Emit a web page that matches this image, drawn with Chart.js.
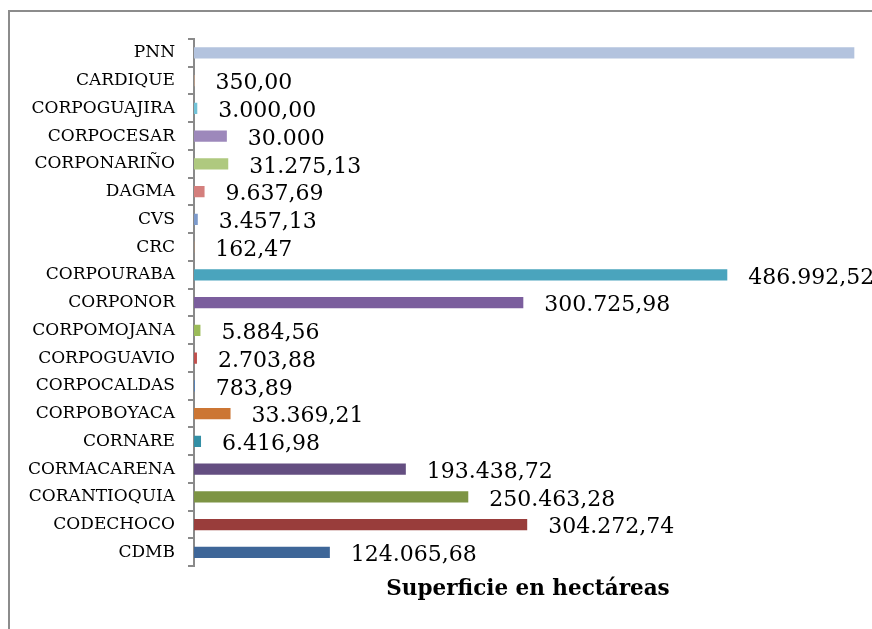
<!DOCTYPE html>
<html>
<head>
<meta charset="utf-8">
<script src="https://cdn.jsdelivr.net/npm/chart.js@4"></script>
<style>
  html, body { margin: 0; padding: 0; background: #fff; overflow: hidden; }
  #frame { position: absolute; left: 8px; top: 10px; width: 900px; height: 700px;
           border-left: 2px solid #8c8c8c; border-top: 2px solid #8c8c8c; }
  #wrap { position: absolute; left: 0; top: 0; width: 872px; height: 629px; }
</style>
</head>
<body>
<div id="frame"></div>
<div id="wrap"><canvas id="myChart"></canvas></div>
<script>
// top to bottom, as in the picture
const categories = ["PNN", "CARDIQUE", "CORPOGUAJIRA", "CORPOCESAR", "CORPONARIÑO", "DAGMA", "CVS", "CRC",
  "CORPOURABA", "CORPONOR", "CORPOMOJANA", "CORPOGUAVIO", "CORPOCALDAS", "CORPOBOYACA", "CORNARE",
  "CORMACARENA", "CORANTIOQUIA", "CODECHOCO", "CDMB"];
// PNN has no label in the picture, its length is read off the bar
const values = [603000, 350, 3000, 30000, 31275.13, 9637.69, 3457.13, 162.47,
  486992.52, 300725.98, 5884.56, 2703.88, 783.89, 33369.21, 6416.98,
  193438.72, 250463.28, 304272.74, 124065.68];
const valueLabels = ["", "350,00", "3.000,00", "30.000", "31.275,13", "9.637,69", "3.457,13", "162,47",
  "486.992,52", "300.725,98", "5.884,56", "2.703,88", "783,89", "33.369,21", "6.416,98",
  "193.438,72", "250.463,28", "304.272,74", "124.065,68"];
const barColors = ["#B3C3DE", "#F9B98B", "#72C2D7", "#9D88BB", "#AFC97F", "#D47F7D", "#7C9ACB", "#F79646",
  "#4AA4BD", "#7B5E9D", "#9BBB59", "#C0504D", "#4F81BD", "#CC7634", "#338FA5",
  "#644E81", "#7D9444", "#993D3B", "#3E6698"];
const axisTitle = "Superficie en hectáreas";

const serif = '"DejaVu Serif", "Liberation Serif", serif';

const valueLabelPlugin = {
  id: "valueLabels",
  afterDatasetsDraw(chart) {
    const ctx = chart.ctx;
    const meta = chart.getDatasetMeta(0);
    ctx.save();
    ctx.font = "22px " + serif;
    ctx.fillStyle = "#000";
    ctx.textBaseline = "middle";
    meta.data.forEach((bar, i) => {
      if (!valueLabels[i]) return;
      ctx.fillText(valueLabels[i], bar.x + 21, bar.y + 3);
    });
    ctx.restore();
  }
};

const config = {
  type: "bar",
  data: {
    labels: categories,
    datasets: [{
      data: values,
      backgroundColor: barColors,
      borderWidth: 0,
      barPercentage: 0.4,
      categoryPercentage: 1
    }]
  },
  options: {
    indexAxis: "y",
    responsive: false,
    animation: false,
    layout: { padding: { top: 39, right: 10, bottom: 27, left: 0 } },
    plugins: { legend: { display: false }, tooltip: { enabled: false } },
    scales: {
      x: {
        min: 0,
        max: 610000,
        ticks: { display: false },
        grid: { display: false, drawTicks: false },
        border: { display: false },
        title: {
          display: true,
          text: axisTitle,
          color: "#000",
          font: { family: serif, size: 21.5, weight: "bold" },
          padding: { top: 10, bottom: 0 }
        }
      },
      y: {
        afterFit(scale) { scale.width = 194; },
        ticks: { color: "#000", padding: 13, font: { family: serif, size: 17 } },
        grid: { drawOnChartArea: false, drawTicks: true, tickLength: 6, color: "#8a8a8a", lineWidth: 2 },
        border: { color: "#8a8a8a", width: 2 }
      }
    }
  },
  plugins: [valueLabelPlugin]
};

const canvas = document.getElementById("myChart");
canvas.width = 872;
canvas.height = 629;
new Chart(canvas, config);
</script>
</body>
</html>
